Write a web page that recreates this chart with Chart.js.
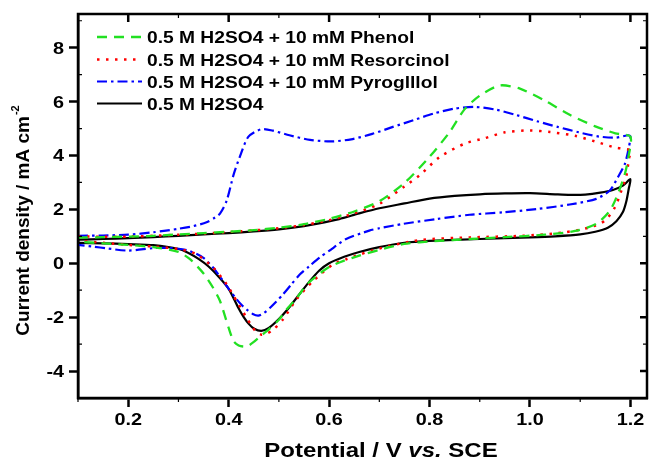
<!DOCTYPE html>
<html>
<head>
    <title>Cyclic voltammograms</title>
    <script src="https://cdn.jsdelivr.net/npm/chart.js"></script>
    <style>
        html, body { margin: 0; padding: 0; background: #fff; }
        #wrap { width: 649px; height: 457px; }
    </style>
</head>
<body>
    <div id="wrap"><canvas id="myChart" width="649" height="457"></canvas></div>

    <script>
        // potential (V vs. SCE) and current density (mA cm-2), forward scan then return scan
        var blankV = [0.10, 0.15, 0.20, 0.25, 0.30, 0.35, 0.40, 0.45, 0.50, 0.55, 0.58, 0.62, 0.66, 0.70, 0.75, 0.80, 0.85, 0.90, 0.95, 1.00, 1.05, 1.08, 1.11, 1.14, 1.165, 1.185, 1.20,
                      1.197, 1.192, 1.185, 1.172, 1.155, 1.13, 1.10, 1.05, 1.00, 0.90, 0.80, 0.75, 0.70, 0.66, 0.63, 0.60, 0.58, 0.56, 0.54, 0.52, 0.50, 0.48, 0.465, 0.45, 0.44, 0.43, 0.42, 0.40, 0.38, 0.36, 0.34, 0.32, 0.30, 0.25, 0.20, 0.15, 0.10];
        var blankJ = [0.88, 0.90, 0.93, 0.97, 1.02, 1.07, 1.12, 1.18, 1.26, 1.38, 1.48, 1.64, 1.85, 2.04, 2.22, 2.40, 2.50, 2.56, 2.59, 2.60, 2.56, 2.54, 2.55, 2.62, 2.72, 2.88, 3.12,
                      2.80, 2.31, 1.90, 1.56, 1.32, 1.17, 1.07, 1.00, 0.96, 0.90, 0.83, 0.76, 0.60, 0.42, 0.24, 0.00, -0.28, -0.70, -1.17, -1.65, -2.07, -2.40, -2.51, -2.42, -2.25, -2.00, -1.68, -0.95, -0.50, -0.12, 0.16, 0.38, 0.53, 0.67, 0.71, 0.74, 0.76];

        var phenolV = [0.10, 0.15, 0.20, 0.25, 0.30, 0.35, 0.40, 0.45, 0.50, 0.55, 0.60, 0.65, 0.70, 0.75, 0.80, 0.84, 0.87, 0.90, 0.94, 0.98, 1.03, 1.08, 1.13, 1.17, 1.20,
                       1.196, 1.189, 1.175, 1.159, 1.132, 1.09, 1.03, 0.95, 0.88, 0.81, 0.75, 0.70, 0.66, 0.63, 0.60, 0.58, 0.555, 0.535, 0.515, 0.50, 0.48, 0.465, 0.45, 0.44, 0.43, 0.42, 0.41, 0.40, 0.383, 0.369, 0.35, 0.323, 0.30, 0.25, 0.20, 0.15, 0.10];
        var phenolJ = [0.95, 0.97, 0.99, 1.02, 1.07, 1.12, 1.17, 1.23, 1.32, 1.45, 1.65, 1.92, 2.30, 2.98, 3.95, 4.87, 5.72, 6.22, 6.60, 6.48, 6.03, 5.50, 5.08, 4.82, 4.70,
                       3.94, 3.32, 2.57, 1.95, 1.46, 1.20, 1.06, 0.97, 0.90, 0.82, 0.72, 0.50, 0.28, 0.10, -0.14, -0.40, -0.80, -1.30, -1.72, -2.10, -2.45, -2.68, -2.92, -3.05, -3.09, -3.05, -2.90, -2.40, -1.41, -0.91, -0.38, 0.15, 0.42, 0.60, 0.68, 0.74, 0.80];

        var resorcinolV = [0.10, 0.15, 0.20, 0.25, 0.30, 0.35, 0.40, 0.45, 0.50, 0.55, 0.60, 0.65, 0.70, 0.75, 0.78, 0.82, 0.87, 0.91, 0.95, 1.00, 1.04, 1.09, 1.14, 1.17, 1.20,
                           1.197, 1.192, 1.182, 1.169, 1.149, 1.119, 1.066, 0.986, 0.88, 0.78, 0.70, 0.66, 0.634, 0.608, 0.568, 0.535, 0.508, 0.489, 0.475, 0.465, 0.455, 0.445, 0.435, 0.416, 0.396, 0.369, 0.336, 0.303, 0.25, 0.20, 0.15, 0.10];
        var resorcinolJ = [1.00, 0.98, 0.99, 1.02, 1.06, 1.10, 1.16, 1.22, 1.30, 1.42, 1.60, 1.85, 2.20, 2.85, 3.26, 3.94, 4.44, 4.64, 4.86, 4.93, 4.87, 4.73, 4.46, 4.29, 4.19,
                           3.88, 3.26, 2.70, 2.07, 1.58, 1.33, 1.14, 1.02, 0.96, 0.86, 0.55, 0.32, 0.15, -0.04, -0.66, -1.34, -2.09, -2.46, -2.62, -2.65, -2.55, -2.30, -2.00, -1.41, -0.78, -0.16, 0.34, 0.52, 0.62, 0.68, 0.76, 0.83];

        var pyrogallolV = [0.10, 0.15, 0.20, 0.25, 0.30, 0.33, 0.356, 0.373, 0.383, 0.396, 0.41, 0.422, 0.439, 0.464, 0.488, 0.521, 0.562, 0.603, 0.644, 0.686, 0.727, 0.768, 0.809, 0.85, 0.891, 0.932, 0.973, 1.014, 1.055, 1.097, 1.138, 1.171, 1.196, 1.20,
                           1.197, 1.189, 1.175, 1.159, 1.132, 1.079, 1.013, 0.946, 0.88, 0.813, 0.747, 0.70, 0.68, 0.634, 0.60, 0.581, 0.56, 0.542, 0.525, 0.508, 0.495, 0.482, 0.47, 0.459, 0.448, 0.436, 0.426, 0.416, 0.40, 0.389, 0.369, 0.349, 0.317, 0.28, 0.25, 0.20, 0.158, 0.13, 0.10];
        var pyrogallolJ = [1.02, 1.03, 1.06, 1.15, 1.28, 1.38, 1.52, 1.70, 1.85, 2.32, 3.30, 3.94, 4.69, 4.97, 4.92, 4.75, 4.58, 4.52, 4.60, 4.80, 5.06, 5.31, 5.56, 5.74, 5.80, 5.70, 5.50, 5.27, 5.06, 4.86, 4.70, 4.66, 4.75, 4.70,
                           4.31, 3.69, 3.19, 2.70, 2.39, 2.18, 2.01, 1.89, 1.80, 1.64, 1.46, 1.30, 1.21, 0.90, 0.46, 0.21, -0.12, -0.41, -0.78, -1.16, -1.42, -1.66, -1.85, -1.94, -1.88, -1.72, -1.55, -1.34, -0.95, -0.66, -0.16, 0.21, 0.49, 0.57, 0.56, 0.47, 0.55, 0.62, 0.68];

        var seriesLabels = ["0.5 M H2SO4 + 10 mM Phenol", "0.5 M H2SO4 + 10 mM Resorcinol", "0.5 M H2SO4 + 10 mM Pyroglllol", "0.5 M H2SO4"];
        var xTickValues = [0.2, 0.4, 0.6, 0.8, 1.0, 1.2];
        var yTickValues = [-4, -2, 0, 2, 4, 6, 8];
        var xMinorValues = [0.1, 0.3, 0.5, 0.7, 0.9, 1.1];
        var yMinorValues = [-5, -3, -1, 1, 3, 5, 7, 9];

        function toPoints(xs, ys) {
            return xs.map((x, i) => ({ x: x, y: ys[i] }));
        }

        var FONT = "'Liberation Sans', Arial, sans-serif";
        var STRETCH = 1.2; // text in this figure is drawn a little wide

        // draws a run of [text, font] pieces with a horizontal stretch, starting at x
        function wideText(ctx, parts, x, y) {
            ctx.save();
            ctx.translate(x, y);
            ctx.scale(STRETCH, 1);
            var cx = 0;
            parts.forEach(p => { ctx.font = p[1]; ctx.fillText(p[0], cx, 0); cx += ctx.measureText(p[0]).width; });
            ctx.restore();
        }
        function wideWidth(ctx, parts) {
            var w = 0;
            parts.forEach(p => { ctx.font = p[1]; w += ctx.measureText(p[0]).width; });
            return w * STRETCH;
        }

        // box, mirrored ticks, tick labels, axis titles and legend
        var framePlugin = {
            id: "frame",
            afterDraw(chart) {
                var ctx = chart.ctx;
                var a = chart.chartArea;
                var xs = chart.scales.x, ys = chart.scales.y;
                ctx.save();
                ctx.strokeStyle = "#000";
                ctx.fillStyle = "#000";
                ctx.lineWidth = 2.5;
                ctx.strokeRect(a.left, a.top, a.right - a.left, a.bottom - a.top);

                ctx.beginPath();
                xTickValues.forEach(v => {
                    var px = xs.getPixelForValue(v);
                    ctx.moveTo(px, a.top); ctx.lineTo(px, a.top + 8);
                });
                yTickValues.forEach(v => {
                    var py = ys.getPixelForValue(v);
                    ctx.moveTo(a.right, py); ctx.lineTo(a.right - 7, py);
                });
                ctx.stroke();

                ctx.lineWidth = 1.2;
                ctx.beginPath();
                xMinorValues.forEach(v => {
                    var px = xs.getPixelForValue(v);
                    ctx.moveTo(px, a.bottom); ctx.lineTo(px, a.bottom + 4);
                    ctx.moveTo(px, a.top); ctx.lineTo(px, a.top + 4);
                });
                yMinorValues.forEach(v => {
                    var py = ys.getPixelForValue(v);
                    ctx.moveTo(a.left, py); ctx.lineTo(a.left + 4, py);
                    ctx.moveTo(a.right, py); ctx.lineTo(a.right - 4, py);
                });
                ctx.stroke();

                // tick labels
                var tickFont = "bold 16.5px " + FONT;
                ctx.textBaseline = "alphabetic";
                xTickValues.forEach(v => {
                    var s = [[v.toFixed(1), tickFont]];
                    var w = wideWidth(ctx, s);
                    wideText(ctx, s, xs.getPixelForValue(v) - w / 2, a.bottom + 27);
                });
                yTickValues.forEach(v => {
                    var s = [[String(v), tickFont]];
                    var w = wideWidth(ctx, s);
                    wideText(ctx, s, a.left - 14 - w, ys.getPixelForValue(v) + 6);
                });

                // x axis title with italic "vs."
                var parts = [["Potential / V ", "bold 20px " + FONT], ["vs.", "italic bold 20px " + FONT], [" SCE", "bold 20px " + FONT]];
                wideText(ctx, parts, 381 - wideWidth(ctx, parts) / 2, 456.5);

                // y axis title with superscript
                ctx.save();
                ctx.translate(29, 221);
                ctx.rotate(-Math.PI / 2);
                ctx.font = "bold 19px " + FONT;
                var main = "Current density / mA cm";
                var w1 = ctx.measureText(main).width;
                ctx.font = "bold 11px " + FONT;
                var w2 = ctx.measureText("-2").width;
                var sx = -(w1 + w2) / 2;
                ctx.font = "bold 19px " + FONT;
                ctx.fillText(main, sx, 0);
                ctx.font = "bold 11px " + FONT;
                ctx.fillText("-2", sx + w1 + 1, -10);
                ctx.restore();

                // legend
                var rows = [37, 59.5, 81.5, 103.5];
                chart.data.datasets.forEach((ds, i) => {
                    ctx.save();
                    ctx.strokeStyle = ds.borderColor;
                    ctx.lineWidth = ds.borderWidth;
                    ctx.setLineDash(ds.borderDash || []);
                    ctx.beginPath();
                    ctx.moveTo(97, rows[i]); ctx.lineTo(142, rows[i]);
                    ctx.stroke();
                    ctx.restore();
                    wideText(ctx, [[ds.label, "bold 16px " + FONT]], 147, rows[i] + 6);
                });
                ctx.restore();
            }
        };

        var ctx = document.getElementById("myChart").getContext("2d");
        new Chart(ctx, {
            type: "scatter",
            data: {
                datasets: [
                    { label: seriesLabels[0], data: toPoints(phenolV, phenolJ), borderColor: "#22e022", borderDash: [10, 7], borderWidth: 2.3 },
                    { label: seriesLabels[1], data: toPoints(resorcinolV, resorcinolJ), borderColor: "#ff0000", borderDash: [2.5, 6.5], borderWidth: 2.5 },
                    { label: seriesLabels[2], data: toPoints(pyrogallolV, pyrogallolJ), borderColor: "#0000ff", borderDash: [10, 4, 2.5, 4], borderWidth: 2.2 },
                    { label: seriesLabels[3], data: toPoints(blankV, blankJ), borderColor: "#000000", borderWidth: 2.2 }
                ]
            },
            options: {
                responsive: false,
                animation: false,
                showLine: true,
                layout: { padding: { top: 14, right: 2, left: 0, bottom: 0 } },
                elements: {
                    point: { radius: 0, hoverRadius: 0 },
                    line: { tension: 0.25, fill: false }
                },
                plugins: {
                    legend: { display: false },
                    tooltip: { enabled: false }
                },
                scales: {
                    x: {
                        type: "linear",
                        min: 0.1,
                        max: 1.233,
                        afterBuildTicks: s => { s.ticks = xTickValues.map(v => ({ value: v })); },
                        afterFit: s => { s.height = 59; },
                        ticks: { display: false },
                        grid: { drawOnChartArea: false, drawTicks: true, tickLength: 9, tickWidth: 2.5, tickColor: "#000" },
                        border: { display: true, color: "#000", width: 2.5 }
                    },
                    y: {
                        type: "linear",
                        min: -5,
                        max: 9.25,
                        afterBuildTicks: s => { s.ticks = yTickValues.map(v => ({ value: v })); },
                        afterFit: s => { s.width = 78; },
                        ticks: { display: false },
                        grid: { drawOnChartArea: false, drawTicks: true, tickLength: 9, tickWidth: 2.5, tickColor: "#000" },
                        border: { display: true, color: "#000", width: 2.5 }
                    }
                }
            },
            plugins: [framePlugin]
        });
    </script>
</body>
</html>
